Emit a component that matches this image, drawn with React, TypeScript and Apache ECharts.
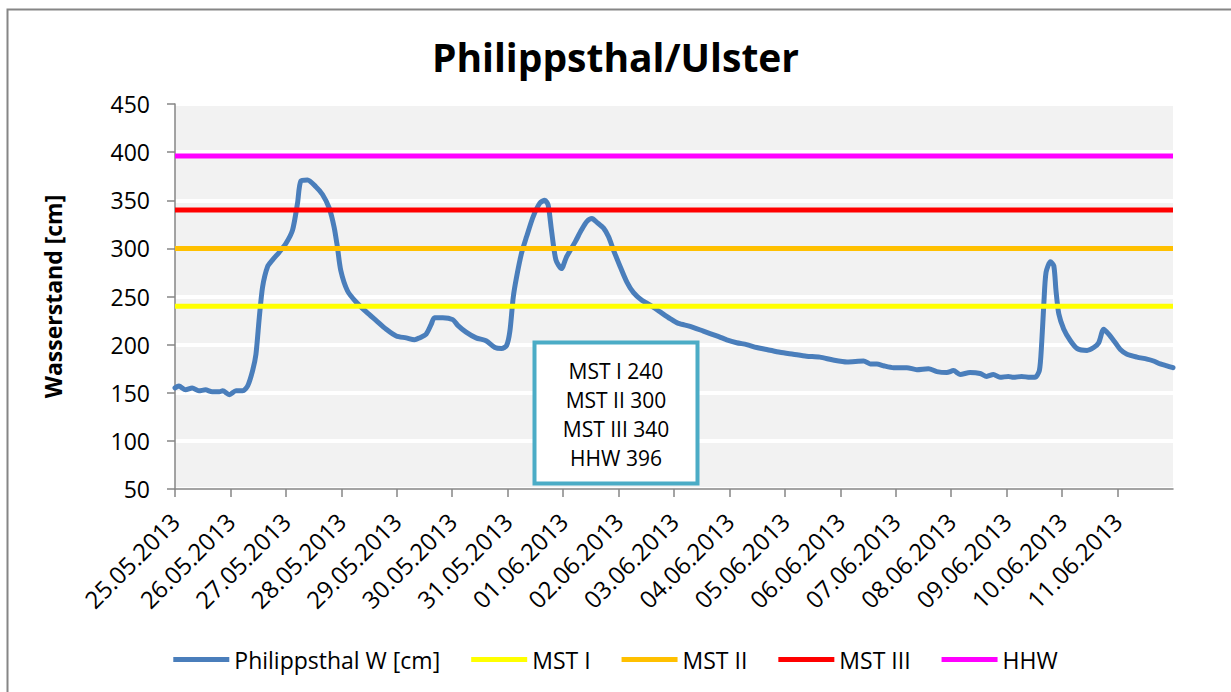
import React, { useEffect, useRef } from "react";
import * as echarts from "echarts";

// Time in days since 25.05.2013 00:00
const dayOffsets = [
  0.0, 0.07, 0.19, 0.31, 0.43, 0.55, 0.67, 0.8, 0.86, 0.98, 1.1, 1.22, 1.31, 1.4, 1.46, 1.52, 1.58, 1.67, 1.76, 1.88,
  2.0, 2.12, 2.21, 2.27, 2.39, 2.54, 2.66, 2.78, 2.87, 2.93, 2.99, 3.11, 3.27, 3.45, 3.63, 3.81, 3.99, 4.17, 4.32, 4.41,
  4.53, 4.62, 4.68, 4.83, 5.01, 5.1, 5.25, 5.43, 5.61, 5.77, 5.89, 5.98, 6.04, 6.1, 6.16, 6.25, 6.34, 6.46, 6.58, 6.67,
  6.73, 6.79, 6.87, 6.97, 7.06, 7.22, 7.33, 7.43, 7.52, 7.61, 7.73, 7.82, 7.91, 8.03, 8.15, 8.27, 8.42, 8.57, 8.75, 8.93,
  9.08, 9.29, 9.53, 9.77, 9.95, 10.13, 10.31, 10.49, 10.67, 10.91, 11.15, 11.39, 11.63, 11.87, 12.12, 12.42, 12.54, 12.66,
  12.78, 12.96, 13.2, 13.38, 13.59, 13.74, 13.92, 14.04, 14.16, 14.34, 14.52, 14.64, 14.76, 14.88, 15.03, 15.12, 15.27,
  15.42, 15.51, 15.59, 15.63, 15.67, 15.71, 15.79, 15.85, 15.89, 15.94, 16.03, 16.15, 16.27, 16.45, 16.57, 16.66, 16.75,
  16.84, 16.96, 17.05, 17.17, 17.35, 17.53, 17.65, 17.77, 17.89, 18.0,
];

// Philippsthal W [cm]
const waterLevels = [
  155, 157, 153, 155, 152, 153, 151, 151, 152, 148, 152, 152, 157, 173, 190, 228, 260, 281, 288, 296,
  305, 319, 347, 370, 371, 364, 356, 342, 322, 301, 277, 256, 244, 234, 225, 216, 209, 207, 205, 207,
  211, 221, 228, 228, 226, 220, 213, 207, 204, 197, 196, 199, 214, 249, 270, 295, 312, 333, 347, 350,
  345, 319, 288, 279, 291, 307, 319, 328, 331, 327, 321, 312, 298, 281, 265, 254, 246, 241, 234, 227,
  222, 219, 214, 209, 205, 202, 200, 197, 195, 192, 190, 188, 187, 184, 182, 183, 180, 180,
  178, 176, 176, 174, 175, 172, 171, 173, 169, 171, 170, 167, 169, 166, 167, 166, 167,
  166, 166, 173, 200, 242, 275, 286, 282, 256, 232, 216, 204, 196, 194, 197, 202, 216,
  211, 202, 195, 190, 187, 185, 183, 180, 178, 176,
];

const dateLabels = [
  "25.05.2013", "26.05.2013", "27.05.2013", "28.05.2013", "29.05.2013", "30.05.2013",
  "31.05.2013", "01.06.2013", "02.06.2013", "03.06.2013", "04.06.2013", "05.06.2013",
  "06.06.2013", "07.06.2013", "08.06.2013", "09.06.2013", "10.06.2013", "11.06.2013",
];

const thresholdNames = ["MST I", "MST II", "MST III", "HHW"];
const thresholdValues = [240, 300, 340, 396];
const thresholdColors = ["#ffff00", "#ffc000", "#ff0000", "#ff00ff"];

const yTicks = { min: 50, max: 450, interval: 50 };
const xRange = { min: 0, max: 18 };

const FONT = "'Open Sans', sans-serif";

export default function App() {
  const ref = useRef<HTMLDivElement>(null);

  useEffect(() => {
    if (!ref.current) return;
    const chart = echarts.init(ref.current, null, { renderer: "svg" });

    const mainData = dayOffsets.map((d, i) => [d, waterLevels[i]]);
    const thresholdSeries = thresholdNames.map((name, i) => ({
      name,
      type: "line",
      data: [
        [xRange.min, thresholdValues[i]],
        [xRange.max, thresholdValues[i]],
      ],
      symbol: "none",
      lineStyle: { color: thresholdColors[i], width: 5 },
      itemStyle: { color: thresholdColors[i] },
      z: 3 + i,
    }));

    const boxText = thresholdNames.map((n, i) => `${n} ${thresholdValues[i]}`).join("\n");

    chart.setOption({
      animation: false,
      backgroundColor: "#ffffff",
      textStyle: { fontFamily: FONT },
      title: {
        text: "Philippsthal/Ulster",
        left: "center",
        top: 32,
        textStyle: { fontFamily: FONT, fontSize: 39, fontWeight: "bold", color: "#000" },
      },
      grid: {
        left: 175,
        right: 58,
        top: 104,
        bottom: 203,
        show: true,
        backgroundColor: "#f2f2f2",
        borderWidth: 0,
      },
      legend: {
        bottom: 16,
        left: "center",
        icon: "rect",
        itemWidth: 56,
        itemHeight: 5,
        itemGap: 31,
        textStyle: { fontFamily: FONT, fontSize: 23, color: "#000" },
        data: ["Philippsthal W [cm]", ...thresholdNames],
      },
      xAxis: {
        type: "value",
        min: xRange.min,
        max: xRange.max,
        interval: 1,
        axisLine: { show: true, lineStyle: { color: "#868686", width: 1.5 } },
        axisTick: { show: true, length: 8, lineStyle: { color: "#868686", width: 1.5 } },
        splitLine: { show: false },
        axisLabel: {
          rotate: 45,
          margin: 28,
          fontFamily: FONT,
          fontSize: 24,
          color: "#000",
          showMaxLabel: false,
          formatter: (v: number) => (v >= 0 && v < dateLabels.length ? dateLabels[Math.round(v)] : ""),
        },
      },
      yAxis: {
        type: "value",
        min: yTicks.min,
        max: yTicks.max,
        interval: yTicks.interval,
        name: "Wasserstand [cm]",
        nameLocation: "middle",
        nameRotate: 90,
        nameGap: 111,
        nameTextStyle: { fontFamily: FONT, fontSize: 23, fontWeight: "bold", color: "#000" },
        axisLine: { show: true, lineStyle: { color: "#868686", width: 1.5 } },
        axisTick: { show: true, length: 8, lineStyle: { color: "#868686", width: 1.5 } },
        axisLabel: { fontFamily: FONT, fontSize: 23, color: "#000", margin: 25 },
        splitLine: { show: true, lineStyle: { color: "#ffffff", width: 4 } },
      },
      series: [
        {
          name: "Philippsthal W [cm]",
          type: "line",
          data: mainData,
          symbol: "none",
          smooth: 0.25,
          lineStyle: { color: "#4a7ebb", width: 5, cap: "round", join: "round" },
          itemStyle: { color: "#4a7ebb" },
          z: 2,
        },
        ...thresholdSeries,
      ],
      graphic: [
        {
          type: "rect",
          shape: { x: 7.5, y: 9.5, width: 1400, height: 900 },
          style: { fill: "none", stroke: "#868686", lineWidth: 2 },
          silent: true,
          z: 100,
        },
        {
          type: "rect",
          shape: { x: 534.5, y: 342.5, width: 163, height: 141 },
          style: { fill: "#ffffff", stroke: "#4bacc6", lineWidth: 4 },
          z: 100,
        },
        {
          type: "text",
          x: 616,
          y: 414,
          style: {
            text: boxText,
            align: "center",
            verticalAlign: "middle",
            lineHeight: 29,
            font: `21px ${FONT}`,
            fill: "#000",
          },
          z: 101,
        },
      ],
    });

    return () => chart.dispose();
  }, []);

  return (
    <div
      ref={ref}
      style={{ position: "fixed", left: 0, top: 0, width: 1231, height: 692 }}
    />
  );
}
